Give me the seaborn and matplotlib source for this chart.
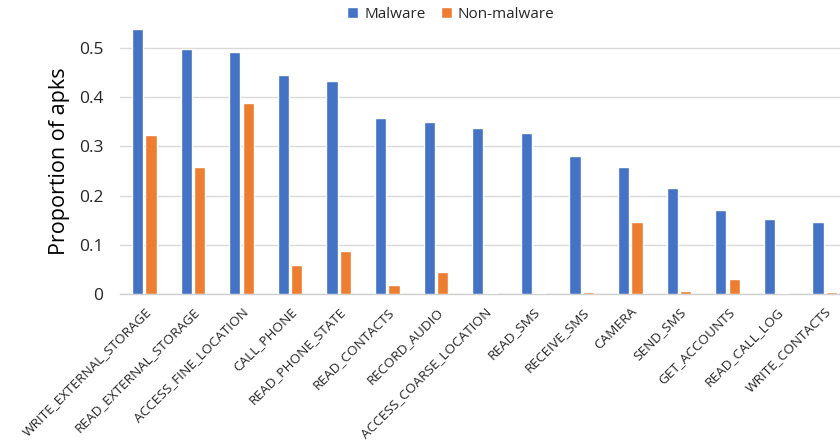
import matplotlib
matplotlib.use('Agg')
import matplotlib.pyplot as plt
import pandas as pd
import seaborn as sns

permissions = ['WRITE_EXTERNAL_STORAGE', 'READ_EXTERNAL_STORAGE', 'ACCESS_FINE_LOCATION',
               'CALL_PHONE', 'READ_PHONE_STATE', 'READ_CONTACTS', 'RECORD_AUDIO',
               'ACCESS_COARSE_LOCATION', 'READ_SMS', 'RECEIVE_SMS', 'CAMERA', 'SEND_SMS',
               'GET_ACCOUNTS', 'READ_CALL_LOG', 'WRITE_CONTACTS']
malware = [0.539, 0.498, 0.492, 0.445, 0.433, 0.358, 0.350, 0.338, 0.327,
           0.281, 0.259, 0.216, 0.171, 0.152, 0.146]
non_malware = [0.323, 0.258, 0.389, 0.058, 0.088, 0.019, 0.045, 0.003, 0.003,
               0.004, 0.147, 0.006, 0.031, 0.002, 0.004]
groups = ['Malware', 'Non-malware']
colors = ['#4472C4', '#ED7D31']
yticks = [0, 0.1, 0.2, 0.3, 0.4, 0.5]
ytick_labels = ['0', '0.1', '0.2', '0.3', '0.4', '0.5']

df = pd.DataFrame({
    'permission': permissions * 2,
    'proportion': malware + non_malware,
    'type': [groups[0]] * len(permissions) + [groups[1]] * len(permissions),
})

sns.set_style('white')
plt.rcParams['font.family'] = ['Open Sans', 'DejaVu Sans']

fig = plt.figure(figsize=(8.4, 4.47), dpi=100)
ax = fig.add_axes([120 / 840, 153 / 447, 729 / 840, 266 / 447])

sns.barplot(data=df, x='permission', y='proportion', hue='type', palette=colors,
            saturation=1, width=0.55, gap=0.15, ax=ax)

ax.set_ylim(0, 0.541)
ax.set_xlim(-0.5, len(permissions) - 0.5)
ax.set_yticks(yticks)
ax.set_yticklabels(ytick_labels, fontsize=12.5, color='#262626')
ax.yaxis.grid(True, color='#d9d9d9', linewidth=1)
ax.set_axisbelow(True)
ax.tick_params(axis='both', length=0)
ax.tick_params(axis='y', pad=12)
ax.tick_params(axis='x', pad=8)
for s in ['top', 'right', 'left']:
    ax.spines[s].set_visible(False)
ax.spines['bottom'].set_color('#d0d0d0')
ax.spines['bottom'].set_linewidth(1)
ax.spines['bottom'].set_zorder(0.6)

plt.setp(ax.get_xticklabels(), rotation=45, ha='right', rotation_mode='anchor',
         fontsize=9.7, color='#262626')
ax.set_xlabel('')
ax.set_ylabel('Proportion of apks', fontsize=15.5, color='#000000', labelpad=6)

handles, labels = ax.get_legend_handles_labels()
ax.get_legend().remove()
fig.legend(handles, labels, loc='center', bbox_to_anchor=(451 / 840, 1 - 14 / 447),
           ncol=2, frameon=False, fontsize=11, handlelength=0.7, handleheight=0.7,
           handletextpad=0.4, columnspacing=1.0)

fig.savefig('out.png', dpi=100)
